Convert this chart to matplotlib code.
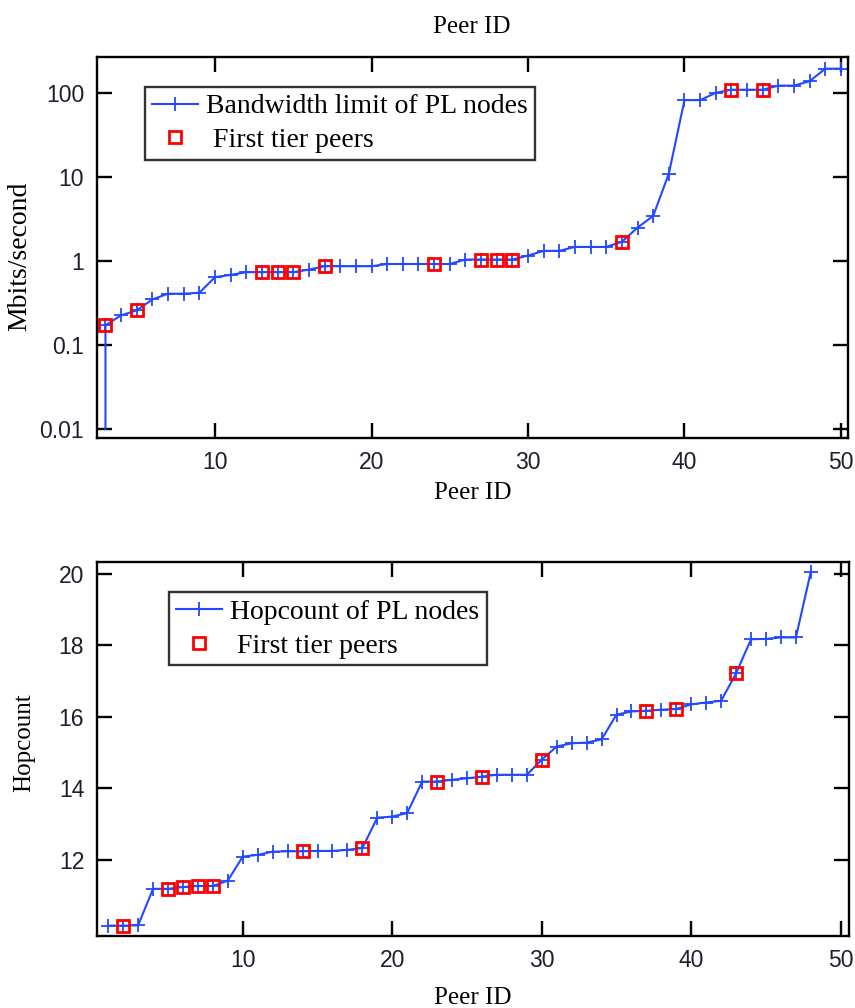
import matplotlib
matplotlib.use("Agg")
import matplotlib.pyplot as plt
from matplotlib.ticker import FixedLocator, FixedFormatter, NullLocator

# bandwidth per peer (top panel), first entry is the drop to 0.01 at peer 3
bw_peer = [3, 3, 4, 5, 6, 7, 8, 9, 10, 11, 12, 13, 14, 15, 16, 17, 18, 19, 20,
           21, 22, 23, 24, 25, 26, 27, 28, 29, 30, 31, 32, 33, 34, 35, 36, 37,
           38, 39, 40, 41, 42, 43, 44, 45, 46, 47, 48, 49, 50]
bw_mbits = [0.01, 0.171, 0.225, 0.258, 0.348, 0.407, 0.407, 0.418, 0.641, 0.683,
            0.735, 0.735, 0.735, 0.735, 0.789, 0.865, 0.865, 0.865, 0.865, 0.92,
            0.92, 0.92, 0.92, 0.92, 1.04, 1.04, 1.04, 1.04, 1.16, 1.32, 1.32,
            1.47, 1.47, 1.47, 1.69, 2.5, 3.44, 11.0, 82.6, 82.6, 101, 110, 110,
            110, 123, 123, 139, 196, 196]
bw_first_tier = [3, 5, 13, 14, 15, 17, 24, 27, 28, 29, 36, 43, 45]

# hopcount per peer (bottom panel)
hop_peer = list(range(1, 49))
hop_count = [10.16, 10.16, 10.17, 11.19, 11.19, 11.24, 11.27, 11.27, 11.42, 12.09,
             12.14, 12.23, 12.24, 12.24, 12.25, 12.25, 12.28, 12.33, 13.18, 13.21,
             13.31, 14.19, 14.19, 14.24, 14.28, 14.33, 14.38, 14.38, 14.38, 14.80,
             15.17, 15.26, 15.28, 15.37, 16.06, 16.15, 16.17, 16.20, 16.22, 16.35,
             16.40, 16.45, 17.22, 18.17, 18.18, 18.22, 18.22, 20.06]
hop_first_tier = [2, 5, 6, 7, 8, 14, 18, 23, 26, 30, 37, 39, 43]

x_ticks = [10, 20, 30, 40, 50]
bw_ticks = [0.01, 0.1, 1, 10, 100]
bw_tick_labels = ["0.01", "0.1", "1", "10", "100"]
hop_ticks = [12, 14, 16, 18, 20]

LINE_BLUE = "#2348ff"
SERIF = "Liberation Serif"
SANS = "Liberation Sans"

plt.rcParams['font.family'] = SANS


def style_axes(ax):
    for sp in ax.spines.values():
        sp.set_linewidth(1.7)
        sp.set_color("black")
    ax.tick_params(which="major", direction="in", length=11, width=1.7,
                   top=True, right=True, labelsize=16.5, pad=9, colors="black",
                   labelcolor="#1e1e30")
    ax.tick_params(which="minor", length=0)
    ax.set_xticks(x_ticks)


def add_legend(ax, anchor):
    leg = ax.legend(loc="upper left", bbox_to_anchor=anchor,
                    prop={"family": SERIF, "size": 20}, frameon=True,
                    fancybox=False, borderpad=0.25, labelspacing=0.3,
                    handlelength=1.65, handletextpad=0.3, borderaxespad=0)
    leg.get_frame().set_edgecolor("black")
    leg.get_frame().set_linewidth(1.7)
    return leg


fig = plt.figure(figsize=(8.55, 10.08), dpi=100)

# ---- top panel: bandwidth ----
ax1 = fig.add_axes([0.1131, 0.5652, 0.8791, 0.3780])
ax1.set_yscale("log")
ax1.plot(bw_peer, bw_mbits, color=LINE_BLUE, linewidth=1.5, marker="+",
         markersize=10, markeredgewidth=1.3, markevery=list(range(1, len(bw_peer))),
         label="Bandwidth limit of PL nodes")
sel = [bw_mbits[bw_peer.index(p, 1)] for p in bw_first_tier]
ax1.plot(bw_first_tier, sel, linestyle="none", marker="s", markersize=9,
         markerfacecolor="none", markeredgecolor="#ff0000", markeredgewidth=2,
         label=" First tier peers")
ax1.set_xlim(2.44, 50.47)
ax1.set_ylim(0.0077, 268)
ax1.yaxis.set_major_locator(FixedLocator(bw_ticks))
ax1.yaxis.set_major_formatter(FixedFormatter(bw_tick_labels))
ax1.yaxis.set_minor_locator(NullLocator())
style_axes(ax1)
ax1.set_xlabel("Peer ID", fontsize=18, family=SERIF, labelpad=6)
ax1.set_ylabel("Mbits/second", fontsize=20, family=SERIF)
ax1.yaxis.set_label_coords(-0.086, 0.478)
add_legend(ax1, (0.064, 0.922))

fig.text(0.552, 0.973, "Peer ID", fontsize=18, family=SERIF, ha="center",
         va="center")

# ---- bottom panel: hopcount ----
ax2 = fig.add_axes([0.1131, 0.0714, 0.8802, 0.3714])
ax2.plot(hop_peer, hop_count, color=LINE_BLUE, linewidth=1.5, marker="+",
         markersize=10, markeredgewidth=1.3, label="Hopcount of PL nodes")
sel2 = [hop_count[hop_peer.index(p)] for p in hop_first_tier]
ax2.plot(hop_first_tier, sel2, linestyle="none", marker="s", markersize=9,
         markerfacecolor="none", markeredgecolor="#ff0000", markeredgewidth=2,
         label=" First tier peers")
ax2.set_xlim(0.23, 50.57)
ax2.set_ylim(9.87, 20.34)
ax2.set_yticks(hop_ticks)
style_axes(ax2)
ax2.set_xlabel("Peer ID", fontsize=18, family=SERIF, labelpad=11)
ax2.set_ylabel("Hopcount", fontsize=18, family=SERIF)
ax2.yaxis.set_label_coords(-0.082, 0.516)
add_legend(ax2, (0.0965, 0.918))

fig.savefig("out.png", dpi=100, facecolor="white")
